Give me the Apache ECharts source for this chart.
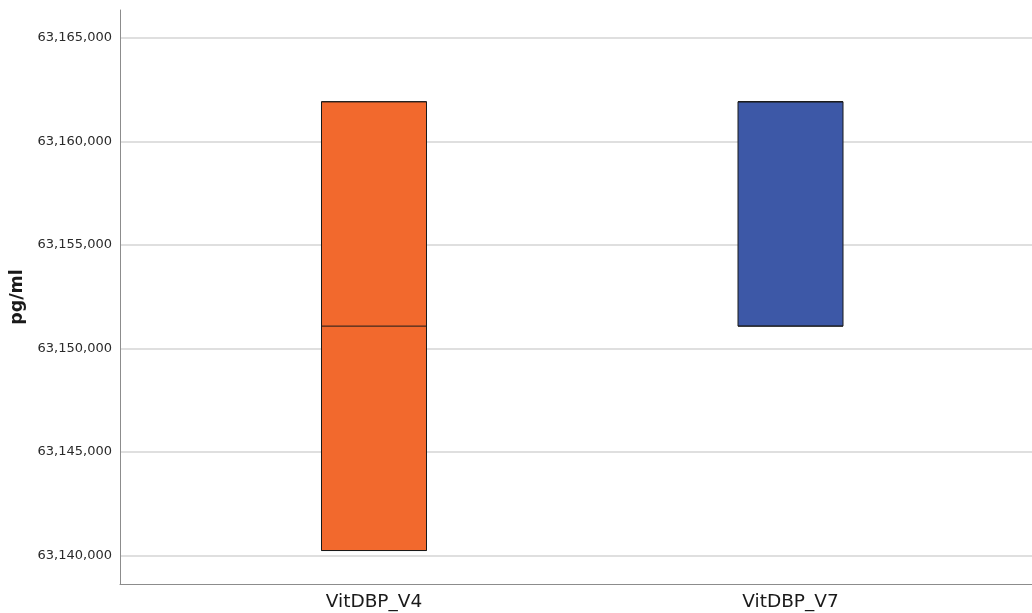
<!DOCTYPE html>
<html>
<head>
<meta charset="utf-8">
<title>VitDBP pg/ml</title>
<script src="https://cdn.jsdelivr.net/npm/echarts@6/dist/echarts.min.js"></script>
<style>
  html, body { margin: 0; padding: 0; background: #ffffff; }
  #chart { width: 1032px; height: 613px; }
</style>
</head>
<body>
<div id="chart"></div>
<script>
// Groups on the x axis
const categories = ['VitDBP_V4', 'VitDBP_V7'];
// Box statistics per group (pg/ml)
const lows    = [63140250, 63151080];
const q1s     = [63140250, 63151080];
const medians = [63151080, 63161910];
const q3s     = [63161910, 63161910];
const highs   = [63161910, 63161910];
const boxColors = ['#F2692D', '#3D58A7'];
// Visible value range of the y axis
const yMin = 63138634;
const yMax = 63166337;

const fmt = v => Math.round(v).toString().replace(/\B(?=(\d{3})+(?!\d))/g, ',');

const boxData = categories.map((c, i) => ({
  value: [lows[i], q1s[i], medians[i], q3s[i], highs[i]],
  itemStyle: { color: boxColors[i], borderColor: '#1a1a1a', borderWidth: 1 }
}));

const chart = echarts.init(document.getElementById('chart'), null, { renderer: 'canvas' });
chart.setOption({
  animation: false,
  backgroundColor: '#ffffff',
  grid: [
    { left: 120, right: 0, top: 10, bottom: 29 },
    { left: 165.75, right: 33.25, top: 10, bottom: 29 }
  ],
  xAxis: [
    {
      gridIndex: 0, type: 'value', min: 0, max: 1,
      axisLine: { show: true, onZero: false, lineStyle: { color: '#8c8c8c', width: 1 } },
      axisTick: { show: false }, axisLabel: { show: false }, splitLine: { show: false }
    },
    {
      gridIndex: 1, type: 'category', data: categories,
      axisLine: { show: false }, axisTick: { show: false },
      axisLabel: { color: '#1a1a1a', fontFamily: 'DejaVu Sans', fontSize: 18.5, margin: 9 }
    }
  ],
  yAxis: [
    {
      gridIndex: 0, type: 'value', min: yMin, max: yMax, splitNumber: 5,
      name: 'pg/ml', nameLocation: 'middle', nameGap: 91, nameRotate: 90,
      nameTextStyle: { color: '#1a1a1a', fontFamily: 'DejaVu Sans', fontWeight: 'bold', fontSize: 17.5 },
      axisLine: { show: true, lineStyle: { color: '#8c8c8c', width: 1 } },
      axisTick: { show: false },
      axisLabel: { color: '#2a2a2a', fontFamily: 'DejaVu Sans', fontSize: 13, margin: 8,
                   showMinLabel: false, showMaxLabel: false, formatter: fmt },
      splitLine: { show: true, showMinLine: false, showMaxLine: false,
                   lineStyle: { color: '#d4d4d4', width: 1.5 } }
    },
    {
      gridIndex: 1, type: 'value', min: yMin, max: yMax, show: false,
      splitLine: { show: false }
    }
  ],
  series: [{
    type: 'boxplot',
    xAxisIndex: 1, yAxisIndex: 1,
    boxWidth: [105, 105],
    data: boxData
  }]
});
</script>
</body>
</html>
